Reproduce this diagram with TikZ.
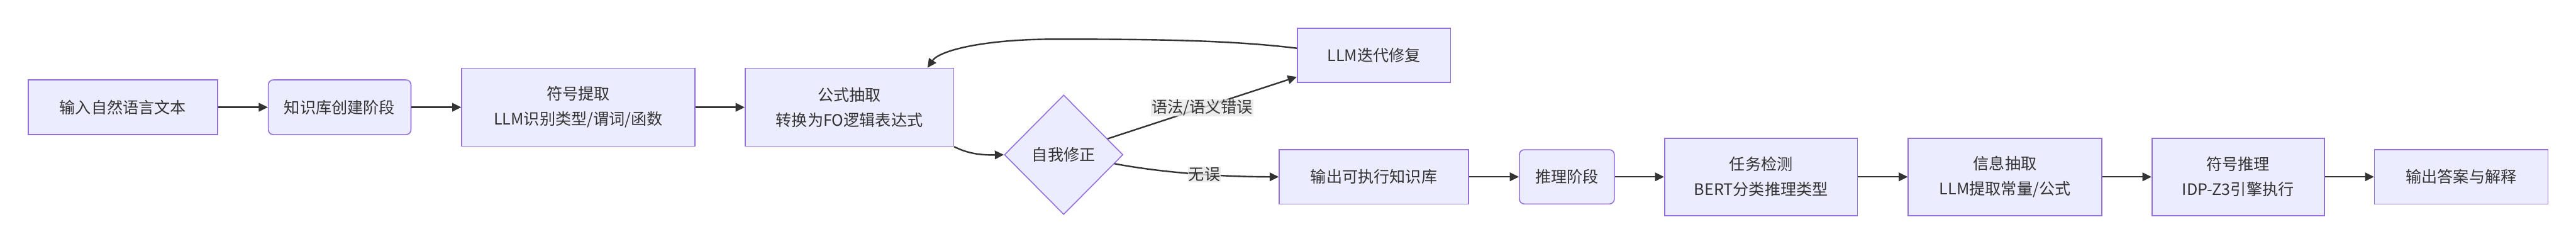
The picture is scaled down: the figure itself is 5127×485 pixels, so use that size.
\documentclass[tikz,border=0pt]{standalone}
\usepackage{fontspec}
\usepackage{tikz}
\usetikzlibrary{positioning,arrows.meta,shapes.geometric}
\newfontfamily\cjk{Noto Sans CJK SC}
\definecolor{boxpurple}{RGB}{147,112,219}
\definecolor{boxfill}{RGB}{236,236,255}
\definecolor{inkgrey}{RGB}{51,51,51}
\definecolor{labgrey}{RGB}{232,232,232}
\tikzset{
  proc/.style={draw=boxpurple,fill=boxfill,line width=2pt,inner sep=0pt,align=center,text=inkgrey,font=\cjk\fontsize{31.5}{50}\selectfont},
  phase/.style={proc,rounded corners=10pt},
  check/.style={proc,diamond,aspect=1},
  flow/.style={inkgrey,line width=3pt,-{Triangle[length=18pt,width=17pt]}},
  elab/.style={fill=labgrey,fill opacity=0.8,text opacity=1,text=inkgrey,inner sep=1pt,font=\cjk\fontsize{31.5}{40}\selectfont}
}
\begin{document}
\begin{tikzpicture}[x=1pt,y=-1pt]
    \path[use as bounding box,fill=white] (0,0) rectangle (5127,485);
    \node[proc,minimum width=377pt,minimum height=109pt] (src) at (244.5,213.5) {输入自然语言文本};
    \node[phase,minimum width=284pt,minimum height=109pt] (kb) at (676,213.5) {知识库创建阶段};
    \node[proc,minimum width=464pt,minimum height=155pt] (sym) at (1151,213.5) {符号提取\\LLM识别类型/谓词/函数};
    \node[proc,minimum width=415pt,minimum height=155pt] (form) at (1690.5,213.5) {公式抽取\\转换为FO逻辑表达式};
    \node[check,minimum width=236pt,minimum height=238pt] (chk) at (2117,308) {自我修正};
    \node[proc,minimum width=305pt,minimum height=108pt] (fix) at (2734.5,110) {LLM迭代修复};
    \node[proc,minimum width=377pt,minimum height=108pt] (kbout) at (2734.5,352) {输出可执行知识库};
    \node[phase,minimum width=189pt,minimum height=108pt] (rs) at (3118.5,352) {推理阶段};
    \node[proc,minimum width=384pt,minimum height=154pt] (task) at (3505,352) {任务检测\\BERT分类推理类型};
    \node[proc,minimum width=385pt,minimum height=154pt] (info) at (3990.5,352) {信息抽取\\LLM提取常量/公式};
    \node[proc,minimum width=343pt,minimum height=154pt] (solve) at (4454.5,352) {符号推理\\IDP-Z3引擎执行};
    \node[proc,minimum width=345pt,minimum height=108pt] (ans) at (4898.5,352) {输出答案与解释};
    \coordinate (loopbend) at (2100,78);
    \draw[flow] (src)--(kb); \draw[flow] (kb)--(sym); \draw[flow] (sym)--(form);
    \draw[flow] (form.south east) .. controls (1925,305) and (1950,309) .. (chk.west);
    \draw[flow] (chk.20) -- node[elab] (errlab) {语法/语义错误} ([yshift=12pt]fix.south west);
    \draw[flow] (chk.-10) .. controls (2320,345) and (2440,352) .. (kbout.west) node[elab,pos=0.55] (oklab) {无误};
    \draw[flow] ([yshift=14pt]fix.west) .. controls (2450,80) and (2300,78) .. (loopbend) .. controls (1960,78) and (1870,100) .. ([xshift=-53pt]form.north east);
    \draw[flow] (kbout)--(rs); \draw[flow] (rs)--(task); \draw[flow] (task)--(info);
    \draw[flow] (info)--(solve); \draw[flow] (solve)--(ans);
  \end{tikzpicture}
\end{document}
